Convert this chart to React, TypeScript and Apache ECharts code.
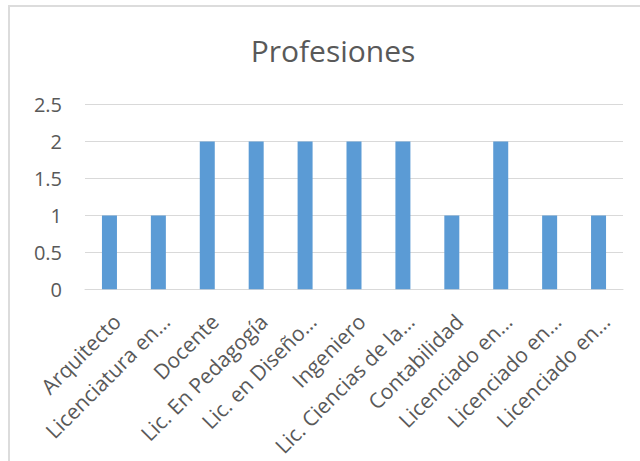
import React, { useEffect, useRef } from "react";
import * as echarts from "echarts";

const titleText = "Profesiones";
const categories = [
  "Arquitecto",
  "Licenciatura en…",
  "Docente",
  "Lic. En Pedagogía",
  "Lic. en Diseño…",
  "Ingeniero",
  "Lic. Ciencias de la…",
  "Contabilidad",
  "Licenciado en…",
  "Licenciado en…",
  "Licenciado en…",
];
const values = [1, 1, 2, 2, 2, 2, 2, 1, 2, 1, 1];
const yMin = 0;
const yMax = 2.5;
const yInterval = 0.5;

const FONT = "'Open Sans', 'Noto Sans', sans-serif";
const TEXT = "#595959";
const GRID = "#d9d9d9";
const BAR = "#5B9BD5";

export default function App() {
  const ref = useRef<HTMLDivElement>(null);
  useEffect(() => {
    if (!ref.current) return;
    const chart = echarts.init(ref.current, undefined, { renderer: "svg" });
    chart.setOption({
      animation: false,
      backgroundColor: "#ffffff",
      textStyle: { fontFamily: FONT },
      graphic: [
        {
          type: "rect",
          shape: { x: 9, y: 6, width: 700, height: 520 },
          style: { fill: "none", stroke: "#dcdcdc", lineWidth: 2 },
          silent: true,
        },
        {
          type: "text",
          x: 333,
          y: 50,
          style: {
            text: titleText,
            fill: TEXT,
            font: `30px ${FONT}`,
            textAlign: "center",
            textVerticalAlign: "middle",
          },
        },
      ],
      grid: { left: 85, right: 17, top: 104.7, bottom: 171.7, containLabel: false },
      xAxis: {
        type: "category",
        data: categories,
        axisLine: { show: true, lineStyle: { color: GRID, width: 1 } },
        axisTick: { show: false },
        axisLabel: {
          interval: 0,
          rotate: 45,
          margin: 21,
          verticalAlign: "top",
          color: TEXT,
          fontFamily: FONT,
          fontSize: 21,
        },
      },
      yAxis: {
        type: "value",
        min: yMin,
        max: yMax,
        interval: yInterval,
        axisLine: { show: false },
        axisTick: { show: false },
        splitLine: { lineStyle: { color: GRID, width: 1 } },
        axisLabel: {
          margin: 23,
          color: TEXT,
          fontFamily: FONT,
          fontSize: 20,
        },
      },
      series: [
        {
          type: "bar",
          data: values,
          barWidth: 15,
          itemStyle: { color: BAR },
        },
      ],
    });
    return () => chart.dispose();
  }, []);
  return (
    <div
      ref={ref}
      style={{ position: "fixed", left: 0, top: 0, width: 640, height: 461 }}
    />
  );
}
